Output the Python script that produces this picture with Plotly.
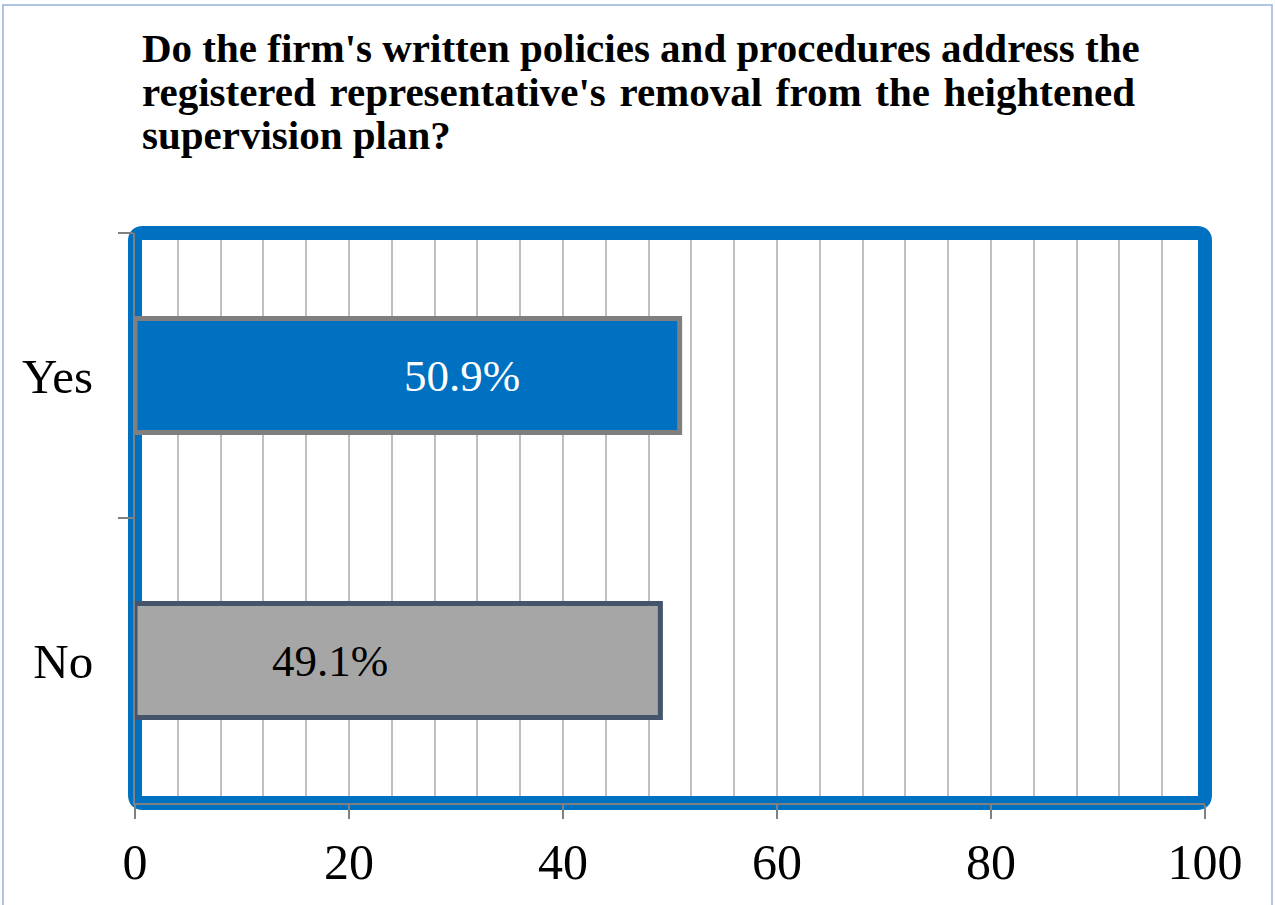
import plotly.graph_objects as go

# ---- data ----
categories = ["Yes", "No"]
values = [50.9, 49.1]
value_labels = ["50.9%", "49.1%"]
x_tick_values = [0, 20, 40, 60, 80, 100]
x_tick_labels = ["0", "20", "40", "60", "80", "100"]
title_lines = [
    "Do the firm's written policies and procedures address the",
    "registered representative's removal from the heightened",
    "supervision plan?",
]

# ---- styles / layout constants ----
W, H = 1275, 905
L, R, T, B = 135, 70, 233, 102
PW, PH = W - L - R, H - T - B
FONT = "Liberation Serif"
FRAME_BLUE = "#0070C0"
FRAME_W = 14
bar_fill = ["#0070C0", "#A6A6A6"]
bar_line = ["#7F7F7F", "#44546A"]
label_colors = ["white", "black"]
label_x = [30.6, 18.2]  # label placement along the bar (layout)
title_y_px = [48, 92, 135]
title_gap = [" ", " \u200a", " "]  # approximate justified spacing per line


def pxx(x):
    return (x - L) / PW


def pxy(y):
    return (T + PH - y) / PH


fig = go.Figure()
fig.add_trace(go.Bar(
    y=categories,
    x=values,
    orientation="h",
    marker=dict(color=bar_fill, line=dict(color=bar_line, width=5)),
    hoverinfo="skip",
    showlegend=False,
))

annotations = []
for cat, lab, col, lx in zip(categories, value_labels, label_colors, label_x):
    annotations.append(dict(
        x=lx, y=cat, xref="x", yref="y", text=lab, showarrow=False,
        font=dict(family=FONT, size=45, color=col), xanchor="center", yanchor="middle",
    ))

for line, ty, gap in zip(title_lines, title_y_px, title_gap):
    annotations.append(dict(
        x=pxx(140), y=pxy(ty), xref="paper", yref="paper",
        text="<b>" + line.replace(" ", gap) + "</b>",
        showarrow=False, xanchor="left", yanchor="middle",
        font=dict(family=FONT, size=41, color="black"),
    ))

# rounded outer path for the frame (outer half, drawn under the plot area)
r = 8
rx, ry = r / PW, r / PH
frame_path = (
    f"M {0 + rx},0 L {1 - rx},0 Q 1,0 1,{ry} L 1,{1 - ry} Q 1,1 {1 - rx},1 "
    f"L {rx},1 Q 0,1 0,{1 - ry} L 0,{ry} Q 0,0 {rx},0 Z"
)

shapes = [
    # outer half of the thick blue frame (below plot background)
    dict(type="path", xref="paper", yref="paper", path=frame_path,
         line=dict(color=FRAME_BLUE, width=FRAME_W), fillcolor="rgba(0,0,0,0)", layer="below"),
    # inner half of the thick blue frame (above gridlines, below bars)
    dict(type="rect", xref="x", yref="y", x0=0, x1=100, y0=-0.5, y1=len(categories) - 0.5,
         line=dict(color=FRAME_BLUE, width=FRAME_W), fillcolor="rgba(0,0,0,0)", layer="between"),
    # thin outer chart border
    dict(type="rect", xref="paper", yref="paper", x0=pxx(3), x1=pxx(1272), y0=pxy(960), y1=pxy(5),
         line=dict(color="#95B3D7", width=1.5), fillcolor="rgba(0,0,0,0)", layer="below"),
]

fig.update_layout(
    width=W, height=H,
    margin=dict(l=L, r=R, t=T, b=B, pad=0),
    paper_bgcolor="white",
    plot_bgcolor="white",
    bargap=0.6,
    annotations=annotations,
    shapes=shapes,
    font=dict(family=FONT, color="black"),
)

fig.update_xaxes(
    range=[0, 100],
    tickvals=x_tick_values,
    ticktext=x_tick_labels,
    ticks="outside", ticklen=14, tickwidth=2, tickcolor="#808080",
    tickfont=dict(family=FONT, size=50, color="black"),
    showline=True, linecolor="#808080", linewidth=2,
    showgrid=True, gridcolor="#C0C0C0", gridwidth=1.5,
    minor=dict(dtick=4, tick0=0, showgrid=True, gridcolor="#C0C0C0", gridwidth=1.5),
    zeroline=False,
    fixedrange=True,
)
fig.update_yaxes(
    range=[len(categories) - 0.5, -0.5],
    tickson="boundaries",
    ticks="outside", ticklen=15, tickwidth=2, tickcolor="#808080",
    tickfont=dict(family=FONT, size=49, color="black"),
    ticklabelstandoff=30,
    showline=True, linecolor="#808080", linewidth=2,
    showgrid=False,
    zeroline=False,
    fixedrange=True,
)

fig.write_html(
    "out.html",
    config={"displayModeBar": False},
    post_script="document.body.style.margin='0';document.body.style.overflow='hidden';",
)
